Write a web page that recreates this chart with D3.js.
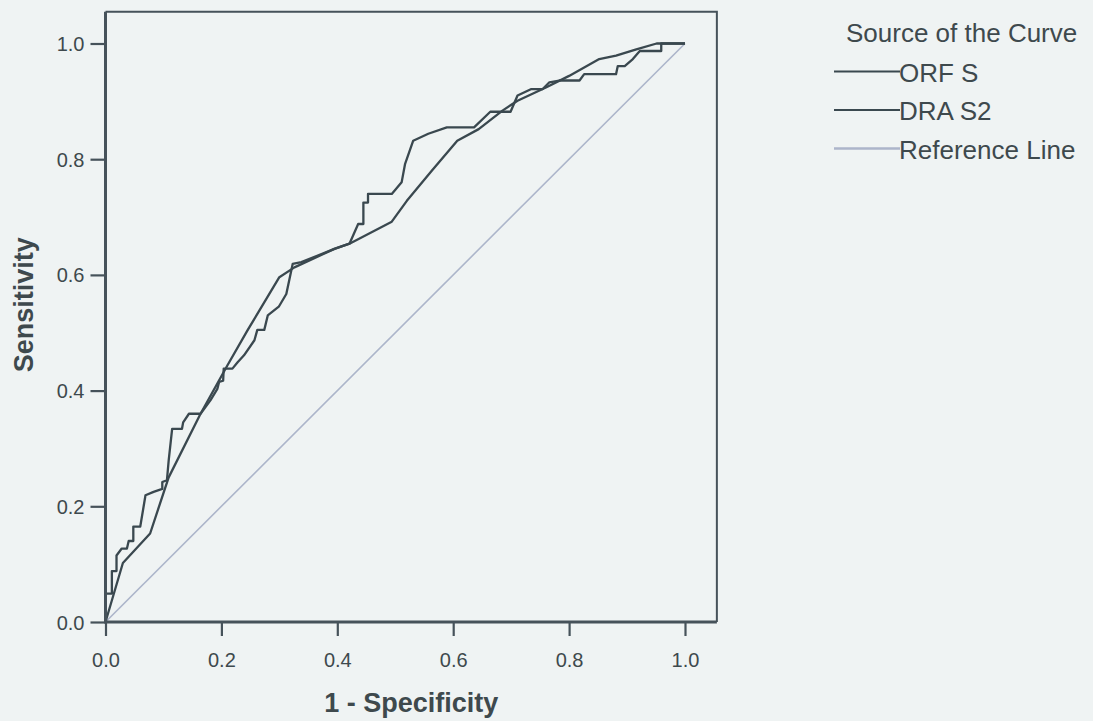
<!DOCTYPE html>
<html>
<head>
<meta charset="utf-8">
<script src="https://cdn.jsdelivr.net/npm/d3@7/dist/d3.min.js"></script>
<style>
  html, body { margin: 0; padding: 0; background: #eff3f3; }
  svg { display: block; font-family: "Liberation Sans", Arial, sans-serif; }
  .axis text { fill: #3e494d; font-size: 20px; }
  .axis line { stroke: #46525a; stroke-width: 2.2px; }
  .title { fill: #3e494d; font-weight: bold; font-size: 27px; }
  .legend text { fill: #3e494d; font-size: 26px; }
</style>
</head>
<body>
<div id="chart"></div>
<script>
// ROC: 1 - specificity (fpr) against sensitivity (tpr)
const seriesNames = ['ORF S', 'DRA S2', 'Reference Line'];
const legendTitle = 'Source of the Curve';
const tickValues = [0, 0.2, 0.4, 0.6, 0.8, 1.0];

const orfFpr = [0, 0, .011, .011, .019, .019, .028, .037, .040, .048, .048, .060, .069, .083,
  .098, .098, .106, .109, .115, .132, .134, .144, .164, .181, .193, .196, .203, .204, .219,
  .228, .239, .257, .262, .274, .280, .299, .312, .323, .338, .395, .421, .436, .445, .445,
  .453, .453, .494, .511, .517, .531, .557, .589, .636, .664, .699, .711, .734, .754, .766,
  .783, .818, .826, .881, .884, .896, .910, .922, .959, .959, 1];
const orfTpr = [0, .049, .049, .088, .088, .115, .127, .127, .140, .140, .165, .165, .219, .225,
  .230, .242, .245, .279, .334, .334, .345, .360, .360, .383, .403, .415, .417, .438, .438,
  .449, .461, .487, .505, .505, .530, .545, .567, .619, .622, .645, .654, .688, .688, .725,
  .725, .740, .740, .760, .792, .832, .844, .855, .855, .882, .882, .910, .921, .921, .933,
  .936, .936, .947, .947, .961, .961, .973, .987, .987, 1, 1];

const draFpr = [0, .030, .077, .109, .164, .210, .245, .300, .326, .395, .421, .494, .520,
  .563, .607, .644, .685, .711, .760, .800, .852, .881, .916, .951, 1];
const draTpr = [0, .102, .153, .250, .360, .443, .504, .596, .613, .645, .654, .692, .728,
  .780, .832, .852, .884, .901, .924, .944, .973, .979, .990, 1, 1];

const refFpr = [0, 1];
const refTpr = [0, 1];

class RocChart {
  constructor (options) {
    Object.assign(this, RocChart.DEFAULTS, options);
  }

  draw () {
    this.svg = d3.select(this.el).append('svg')
      .attr('width', this.width)
      .attr('height', this.height);

    this.createScales();
    this.drawPaths();
    this.addAxes();
    this.addLegend();
  }

  createScales () {
    const p = this.plot;
    this.xScale = d3.scaleLinear().domain([0, 1]).range([p.left, p.right]);
    this.yScale = d3.scaleLinear().domain([0, 1]).range([p.bottom, p.top]);
    this.line = d3.line()
      .x(d => this.xScale(d[0]))
      .y(d => this.yScale(d[1]));
  }

  drawPaths () {
    const layers = [
      {fpr: orfFpr, tpr: orfTpr, color: this.curveColor, w: 2.3},
      {fpr: draFpr, tpr: draTpr, color: this.curveColor, w: 2.3},
      {fpr: refFpr, tpr: refTpr, color: this.refColor, w: 1.6}
    ];

    // reference first so the curves sit on top
    this.svg.selectAll('path.curve')
      .data(layers.slice().reverse())
      .enter().append('path')
      .attr('class', 'curve')
      .attr('d', d => this.line(d.fpr.map((f, i) => [f, d.tpr[i]])))
      .attr('fill', 'none')
      .attr('stroke', d => d.color)
      .attr('stroke-width', d => d.w)
      .attr('stroke-linejoin', 'round');
  }

  addAxes () {
    const x = this.xScale, y = this.yScale, p = this.plot, c = this.frameColor;
    const fmt = d3.format('.1f');

    const xAxis = this.svg.append('g')
      .attr('class', 'x axis')
      .attr('transform', 'translate(0,' + p.bottom + ')')
      .call(d3.axisBottom(x).tickValues(tickValues).tickFormat(fmt).tickSize(14));
    xAxis.select('.domain').remove();
    xAxis.selectAll('text').attr('y', 45).attr('dy', 0);

    const yAxis = this.svg.append('g')
      .attr('class', 'y axis')
      .attr('transform', 'translate(' + p.left + ',0)')
      .call(d3.axisLeft(y).tickValues(tickValues).tickFormat(fmt).tickSize(15));
    yAxis.select('.domain').remove();
    yAxis.selectAll('text').attr('x', -21).attr('dy', '0.35em');

    // frame: heavy left and bottom, lighter top and right
    const fx = x(this.frameMax), fy = y(this.frameMax);
    this.svg.append('path')
      .attr('d', `M${p.left},${fy}H${fx}V${p.bottom}`)
      .attr('fill', 'none').attr('stroke', c).attr('stroke-width', 2);
    this.svg.append('path')
      .attr('d', `M${p.left},${fy}V${p.bottom}H${fx}`)
      .attr('fill', 'none').attr('stroke', c).attr('stroke-width', 3);

    this.svg.append('text')
      .attr('class', 'title')
      .attr('text-anchor', 'middle')
      .attr('x', (p.left + fx) / 2)
      .attr('y', 712)
      .text('1 - Specificity');

    this.svg.append('text')
      .attr('class', 'title')
      .attr('text-anchor', 'middle')
      .attr('transform', 'translate(33,' + ((p.bottom + fy) / 2 - 12) + ') rotate(-90)')
      .text('Sensitivity');
  }

  addLegend () {
    const lg = this.svg.append('g').attr('class', 'legend');
    const colors = [this.curveColor, this.curveColor, this.refColor];

    lg.append('text').attr('x', 846).attr('y', 42).text(legendTitle);

    const rows = lg.selectAll('g.row')
      .data(seriesNames)
      .enter().append('g')
      .attr('class', 'row')
      .attr('transform', (d, i) => 'translate(0,' + (81.5 + i * 38.5) + ')');

    rows.append('line')
      .attr('x1', 834).attr('x2', 900)
      .attr('y1', -10).attr('y2', -10)
      .attr('stroke', (d, i) => colors[i])
      .attr('stroke-width', (d, i) => i === 2 ? 2.5 : 2);

    rows.append('text')
      .attr('x', 899)
      .text(d => d);
  }
}

RocChart.DEFAULTS = {
  width: 1093,
  height: 721,
  plot: {left: 105.5, right: 685, top: 43.5, bottom: 622},
  frameMax: 1.055,
  curveColor: '#3a484f',
  refColor: '#acb5ca',
  frameColor: '#46525a'
};

new RocChart({el: '#chart'}).draw();
</script>
</body>
</html>
